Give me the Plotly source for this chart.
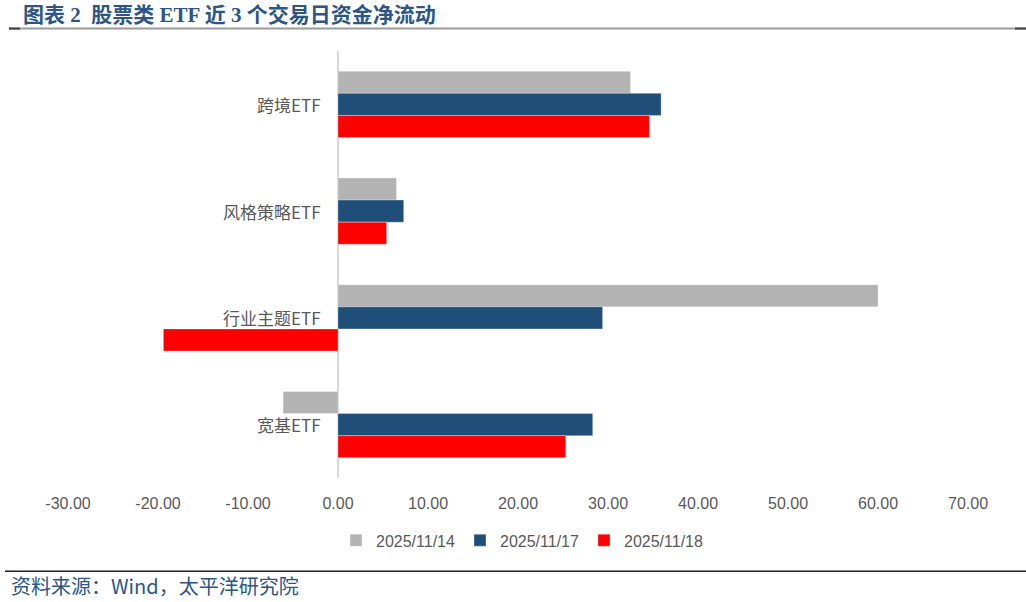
import plotly.graph_objects as go

# 数据
categories = ['跨境ETF', '风格策略ETF', '行业主题ETF', '宽基ETF']
series_names = ['2025/11/14', '2025/11/17', '2025/11/18']
flow_1114 = [32.5, 6.5, 60.0, -6.1]
flow_1117 = [35.9, 7.3, 29.4, 28.3]
flow_1118 = [34.6, 5.4, -19.4, 25.3]
tick_vals = [-30, -20, -10, 0, 10, 20, 30, 40, 50, 60, 70]
tick_text = ['%.2f' % v for v in tick_vals]

colors = ['#B3B3B3', '#1F4E79', '#FF0000']

W, H = 1026, 602
L, R, T, B = 68, 968, 50.5, 478.5


def px(x):
    return (x - L) / (R - L)


def py(y):
    return (B - y) / (B - T)


fig = go.Figure()
for name, vals, c in zip(series_names, [flow_1114, flow_1117, flow_1118], colors):
    fig.add_trace(go.Bar(
        y=categories, x=vals, name=name, orientation='h',
        marker=dict(color=c, line=dict(color='rgba(255,255,255,0.6)', width=0.5)),
    ))

# 类别标签放在零轴左侧
for cat in categories:
    fig.add_annotation(x=0, y=cat, xref='x', yref='y', text=cat, showarrow=False,
                       xanchor='right', yanchor='middle', xshift=-15,
                       font=dict(family='Noto Sans CJK SC', size=17, color='#595959'))

# 标题
fig.add_annotation(x=px(21), y=py(14), xref='paper', yref='paper',
                   text='<b>图表 2  股票类 ETF 近 3 个交易日资金净流动</b>', showarrow=False,
                   xanchor='left', yanchor='middle',
                   font=dict(family='Liberation Serif, Noto Sans CJK SC', size=21, color='#2B5686'))
# 来源
fig.add_annotation(x=px(9), y=py(586), xref='paper', yref='paper',
                   text='资料来源：Wind，太平洋研究院', showarrow=False,
                   xanchor='left', yanchor='middle',
                   font=dict(family='Noto Sans CJK SC', size=20, color='#2B5686'))

# 分隔线
fig.add_shape(type='line', xref='paper', yref='paper', x0=px(9), x1=px(1026), y0=py(28), y1=py(28),
              line=dict(color='#9A9A9A', width=2))
fig.add_shape(type='line', xref='paper', yref='paper', x0=px(9), x1=px(20), y0=py(28), y1=py(28),
              line=dict(color='#404040', width=2))
fig.add_shape(type='line', xref='paper', yref='paper', x0=px(1015), x1=px(1026), y0=py(28), y1=py(28),
              line=dict(color='#404040', width=2))
fig.add_shape(type='line', xref='paper', yref='paper', x0=px(5), x1=px(1026), y0=py(572), y1=py(572),
              line=dict(color='#222222', width=1.5))

fig.update_layout(
    width=W, height=H,
    margin=dict(l=L, r=W - R, t=T, b=H - B),
    plot_bgcolor='white', paper_bgcolor='white',
    barmode='group', bargap=0.38, bargroupgap=0,
    showlegend=True,
    legend=dict(orientation='h', x=px(522), xanchor='center', y=py(541), yanchor='middle',
                font=dict(family='Liberation Sans Narrow, Arial', size=16, color='#595959'),
                itemwidth=30, traceorder='normal'),
    xaxis=dict(range=[-30, 70], tickvals=tick_vals, ticktext=tick_text, showgrid=False,
               zeroline=True, zerolinecolor='#D9D9D9', zerolinewidth=1.5,
               showline=False, ticks='', ticklabelstandoff=14,
               tickfont=dict(family='Liberation Sans Narrow, Arial', size=16, color='#595959')),
    yaxis=dict(autorange='reversed', showticklabels=False, showgrid=False, showline=False,
               zeroline=False, ticks=''),
)

# 去掉页面默认边距
fig.write_html('out.html', config={'displayModeBar': False},
               post_script="document.body.style.margin='0';")
